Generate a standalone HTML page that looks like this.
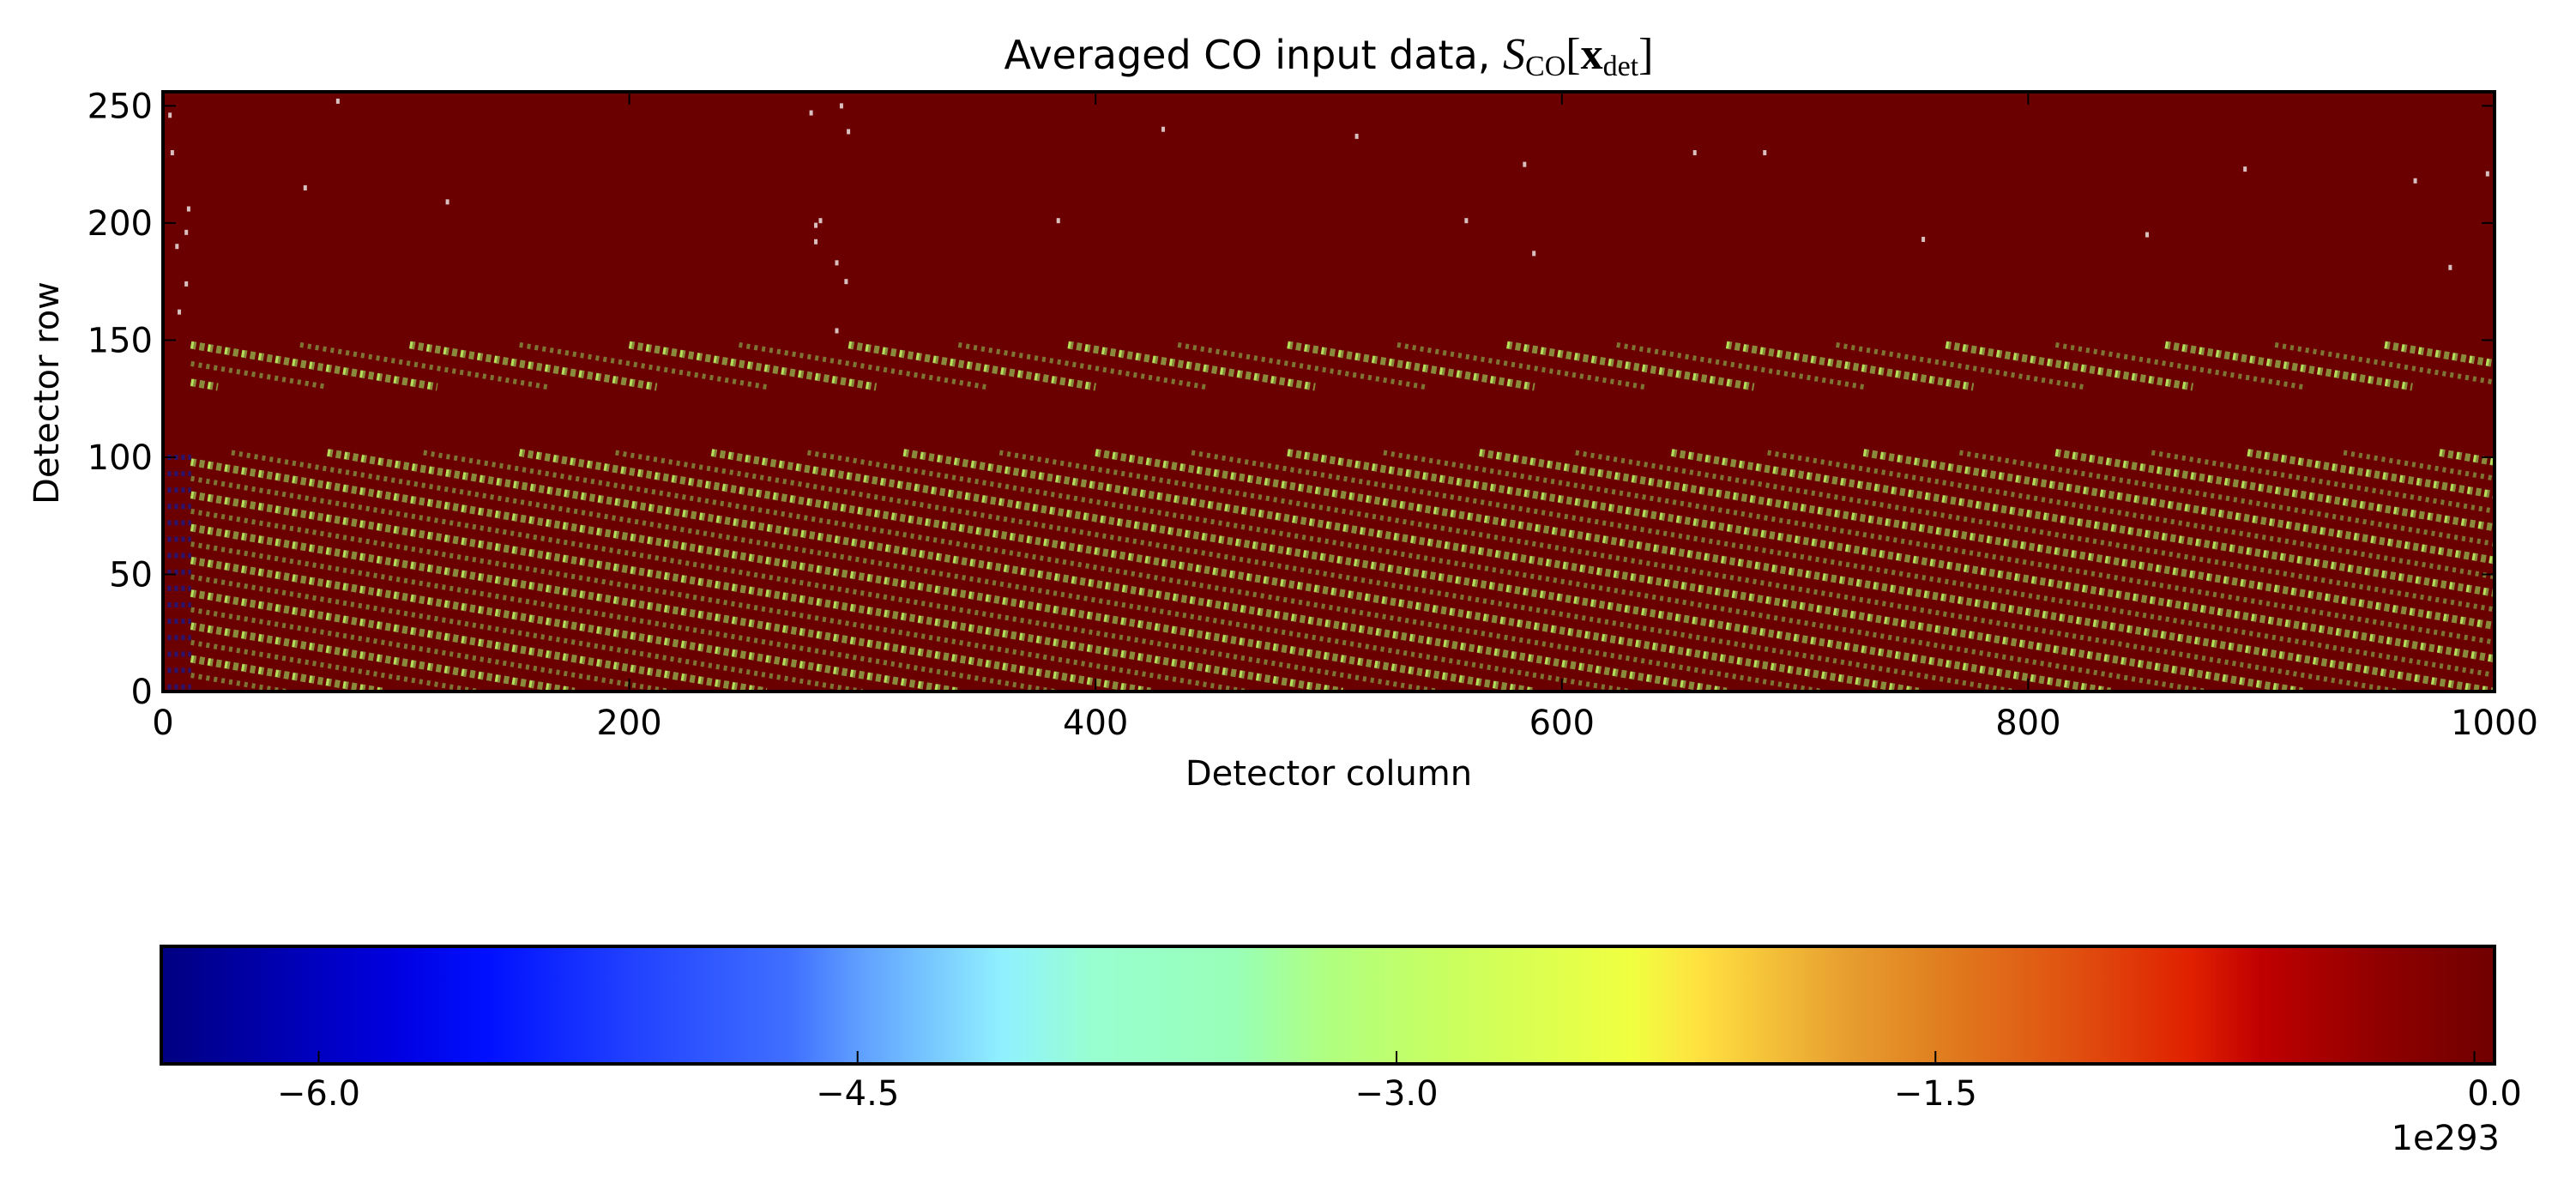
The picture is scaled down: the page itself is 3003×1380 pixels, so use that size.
<!DOCTYPE html>
<html><head><meta charset="utf-8"><style>
html,body{margin:0;padding:0;background:#fff;}
svg{display:block;font-family:"DejaVu Sans","Liberation Sans",sans-serif;}
</style></head><body>
<svg id="chart" width="3003" height="1380" viewBox="0 0 3003 1380" xmlns="http://www.w3.org/2000/svg">
<defs>
<linearGradient id="jet" x1="0" x2="1" y1="0" y2="0">
<stop offset="0" stop-color="#000080"/><stop offset="0.1" stop-color="#0000e0"/><stop offset="0.14" stop-color="#0010ff"/>
<stop offset="0.2" stop-color="#2040ff"/><stop offset="0.27" stop-color="#4070ff"/><stop offset="0.3" stop-color="#60a0ff"/>
<stop offset="0.36" stop-color="#90f0ff"/><stop offset="0.4" stop-color="#98ffd0"/><stop offset="0.46" stop-color="#98ffb8"/>
<stop offset="0.5" stop-color="#b0ff80"/><stop offset="0.55" stop-color="#c8ff60"/><stop offset="0.63" stop-color="#f0ff40"/>
<stop offset="0.66" stop-color="#ffe040"/><stop offset="0.72" stop-color="#e8a030"/><stop offset="0.76" stop-color="#e08020"/>
<stop offset="0.82" stop-color="#e05010"/><stop offset="0.87" stop-color="#e02000"/><stop offset="0.9" stop-color="#c00000"/>
<stop offset="0.95" stop-color="#900000"/><stop offset="1" stop-color="#700000"/>
</linearGradient>
<clipPath id="plotclip"><rect x="190" y="107" width="2718" height="699"/></clipPath>
</defs>
<text x="1549" y="80" font-size="46" text-anchor="middle">Averaged CO input data, <tspan font-family="Liberation Serif,serif" font-style="italic" font-size="52">S</tspan><tspan font-family="Liberation Serif,serif" font-size="34" dy="8">CO</tspan><tspan font-family="Liberation Serif,serif" font-size="52" dy="-8">[</tspan><tspan font-family="Liberation Serif,serif" font-weight="bold" font-size="52">x</tspan><tspan font-family="Liberation Serif,serif" font-size="34" dy="8">det</tspan><tspan font-family="Liberation Serif,serif" font-size="52" dy="-8">]</tspan></text>
<rect x="190" y="107" width="2718" height="699" fill="#6b0000"/>
<g id="marks" clip-path="url(#plotclip)"></g>
<g id="axes"></g>
<rect x="190" y="107" width="2718" height="699" fill="none" stroke="#000" stroke-width="4"/>
<text x="1549" y="915" font-size="40" text-anchor="middle">Detector column</text>
<text x="68" y="458" font-size="40" text-anchor="middle" transform="rotate(-90 68 458)">Detector row</text>
<rect x="188" y="1103" width="2720" height="137" fill="url(#jet)" stroke="#000" stroke-width="4"/>
<g id="cbaxis"></g>
<text x="2914" y="1340" font-size="40" text-anchor="end">1e293</text>
</svg>
<script>
const xTicks=[0,200,400,600,800,1000];
const yTicks=[0,50,100,150,200,250];
const cbTicks=[-6.0,-4.5,-3.0,-1.5,0.0];
const cbTickLabels=['\u22126.0','\u22124.5','\u22123.0','\u22121.5','0.0'];
const lineSlope=-0.17;
const lowerBand=[0,102];
const upperBand=[130,148];
const lowerIntercepts=[2,9,16,23,30,37,44,51,58,65,72,79,86,93,100,107,114,121,128,135,142,149,156,163,170,177,184,191,198,205,212,219,226,233,240,247,254,261,268,275];
const upperIntercepts=[134,142,150,158,166,174,182,190,198,206,214,222,230,238,246,254,262,270,278,286,294,302,310,318];
const leftRows=[2,9,16,23,30,37,44,51,58,65,72,79,86,93,100];
const spotCols=[75,61,122,278,291,294,280,282,280,289,293,289,384,429,512,559,584,588,657,687,755,893,851,966,981,997,3,11,10,6,4,10,7];
const spotRows=[252,215,209,247,250,239,199,201,192,183,175,154,201,240,237,201,225,187,230,230,193,223,195,218,181,221,246,206,196,190,230,174,162];
const X0=190,X1=2908,Y0=806,Y1=107,XMAX=1000,YMAX=256;
const CB0=188,CB1=2908,CBMIN=-6.438,CBMAX=0.056;
function sx(v){return X0+(X1-X0)*v/XMAX;}
function sy(v){return Y0-(Y0-Y1)*v/YMAX;}
function scb(v){return CB0+(CB1-CB0)*(v-CBMIN)/(CBMAX-CBMIN);}
const NS='http://www.w3.org/2000/svg';
function mk(tag,attrs,parent){const e=document.createElementNS(NS,tag);for(const k in attrs)e.setAttribute(k,attrs[k]);parent.appendChild(e);return e;}
const marks=document.getElementById('marks');
function bandLines(intercepts,band,prefix){
  intercepts.forEach((c,i)=>{
    let xa=Math.max(12,(c-band[1])/(-lineSlope)), xb=Math.min(XMAX,(c-band[0])/(-lineSlope));
    if(xb<=xa)return;
    const ya=c+lineSlope*xa, yb=c+lineSlope*xb;
    const big=i%2===0;
    const l=mk('line',{x1:sx(xa),y1:sy(ya),x2:sx(xb),y2:sy(yb),stroke:big?'#8a8a3c':'#7e7434','stroke-width':big?9:6,'stroke-dasharray':big?'6 4':'4 5'},marks);
    
    
    if(big){
      const h=mk('line',{x1:sx(xa),y1:sy(ya),x2:sx(xb),y2:sy(yb),stroke:'#b4e05a','stroke-width':8,'stroke-dasharray':'3 17'},marks);
      
      
    }
  });
}
bandLines(lowerIntercepts,lowerBand,'lower-band');
bandLines(upperIntercepts,upperBand,'upper-band');
leftRows.forEach(r=>{
  const l=mk('line',{x1:sx(2),y1:sy(r),x2:sx(12),y2:sy(r),stroke:'#2a1470','stroke-width':6,'stroke-dasharray':'4 4'},marks);
  
  
});
spotCols.forEach((c,i)=>{
  const r=mk('rect',{x:sx(c)-2,y:sy(spotRows[i])-3,width:4,height:6,fill:'#d8c0c0'},marks);
  
  
});
const axes=document.getElementById('axes');
xTicks.forEach(t=>{
  const g=mk('g',{},axes);
  
  
  mk('line',{x1:sx(t),y1:Y0,x2:sx(t),y2:Y0-15,stroke:'#000','stroke-width':2},g);
  mk('line',{x1:sx(t),y1:Y1,x2:sx(t),y2:Y1+15,stroke:'#000','stroke-width':2},g);
  const tx=mk('text',{x:sx(t),y:856,'font-size':40,'text-anchor':'middle'},g);tx.textContent=t;
});
yTicks.forEach(t=>{
  const g=mk('g',{},axes);
  
  
  mk('line',{x1:X0,y1:sy(t),x2:X0+15,y2:sy(t),stroke:'#000','stroke-width':2},g);
  mk('line',{x1:X1,y1:sy(t),x2:X1-15,y2:sy(t),stroke:'#000','stroke-width':2},g);
  const tx=mk('text',{x:178,y:sy(t)+14,'font-size':40,'text-anchor':'end'},g);tx.textContent=t;
});
const cb=document.getElementById('cbaxis');
cbTicks.forEach((t,i)=>{
  const g=mk('g',{},cb);
  
  
  const px=Math.min(scb(t),2908);
  mk('line',{x1:px,y1:1240,x2:px,y2:1225,stroke:'#000','stroke-width':2},g);
  const tx=mk('text',{x:i===cbTicks.length-1?2908:scb(t),y:1288,'font-size':40,'text-anchor':'middle'},g);tx.textContent=cbTickLabels[i];
});
</script>
</body></html>
